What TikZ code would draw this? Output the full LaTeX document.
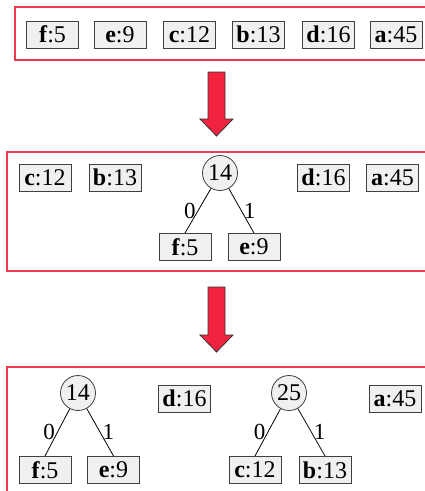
\documentclass[tikz,border=0pt]{standalone}
\usepackage{fontspec}
\setmainfont{Liberation Serif}
\usepackage{tikz}

\definecolor{panelred}{RGB}{236,58,78}
\definecolor{arrowred}{RGB}{240,36,62}

\tikzset{
  leaf/.style={draw=black!75, fill=gray!12, line width=1pt, minimum width=52pt,
    minimum height=27pt, inner sep=0pt, font=\fontsize{24}{26}\selectfont},
  inode/.style={circle, draw=black!75, fill=gray!12, line width=0.8pt,
    minimum size=35pt, inner sep=0pt, font=\fontsize{24}{26}\selectfont},
  bit/.style={font=\fontsize{23}{26}\selectfont, inner sep=2pt},
  panel/.style={draw=panelred, line width=1.2pt},
  bigarrow/.style={fill=arrowred, draw=black!80, line width=0.8pt}
}

\begin{document}
\begin{tikzpicture}[x=1pt,y=-1pt]
  \useasboundingbox (0,0) rectangle (425,491);
  \clip (0,0) rectangle (425,491);

  % Draw the three frames
  \draw[panel] (15,7) rectangle (445,60);
  \draw[panel] (7,152) rectangle (445,271);
  \draw[panel] (7,367) rectangle (445,510);

  % Draw the two arrows
  \draw[bigarrow] (208,72) -- (225,72) -- (225,119) -- (233,119) -- (216.5,136)
    -- (200,119) -- (208,119) -- cycle;
  \draw[bigarrow] (208,287) -- (225,287) -- (225,335) -- (233,335) -- (216.5,352)
    -- (200,335) -- (208,335) -- cycle;

  % first row
  \node[leaf] (f1) at (52.5,34.5) {\textbf{f}:5};
  \node[leaf] (e1) at (120,34.5) {\textbf{e}:9};
  \node[leaf] (c1) at (189.5,34.5) {\textbf{c}:12};
  \node[leaf] (b1) at (258.5,34.5) {\textbf{b}:13};
  \node[leaf] (d1) at (328.5,34.5) {\textbf{d}:16};
  \node[leaf] (a1) at (396,34.5) {\textbf{a}:45};

  % second row
  \node[leaf] (c2) at (45,177.5) {\textbf{c}:12};
  \node[leaf] (b2) at (115,177.5) {\textbf{b}:13};
  \node[inode] (n2) at (220,173) {14};
  \node[leaf] (d2) at (323.5,177.5) {\textbf{d}:16};
  \node[leaf] (a2) at (392.5,177.5) {\textbf{a}:45};
  \node[leaf] (f2) at (185,247) {\textbf{f}:5};
  \node[leaf] (e2) at (254,247) {\textbf{e}:9};
  \draw[line width=0.8pt] (n2) -- (f2.north) node[bit, midway, left] {0};
  \draw[line width=0.8pt] (n2) -- (e2.north) node[bit, midway, right] {1};

  % third row
  \node[inode] (n3) at (78,393) {14};
  \node[leaf] (d3) at (184.5,398.5) {\textbf{d}:16};
  \node[inode] (m3) at (289,393) {25};
  \node[leaf] (a3) at (395,398.5) {\textbf{a}:45};
  \node[leaf] (f3) at (45,470) {\textbf{f}:5};
  \node[leaf] (e3) at (113.5,470) {\textbf{e}:9};
  \node[leaf] (c3) at (255,470) {\textbf{c}:12};
  \node[leaf] (b3) at (325,470) {\textbf{b}:13};
  \draw[line width=0.8pt] (n3) -- (f3.north) node[bit, midway, left] {0};
  \draw[line width=0.8pt] (n3) -- (e3.north) node[bit, midway, right] {1};
  \draw[line width=0.8pt] (m3) -- (c3.north) node[bit, midway, left] {0};
  \draw[line width=0.8pt] (m3) -- (b3.north) node[bit, midway, right] {1};
\end{tikzpicture}
\end{document}
